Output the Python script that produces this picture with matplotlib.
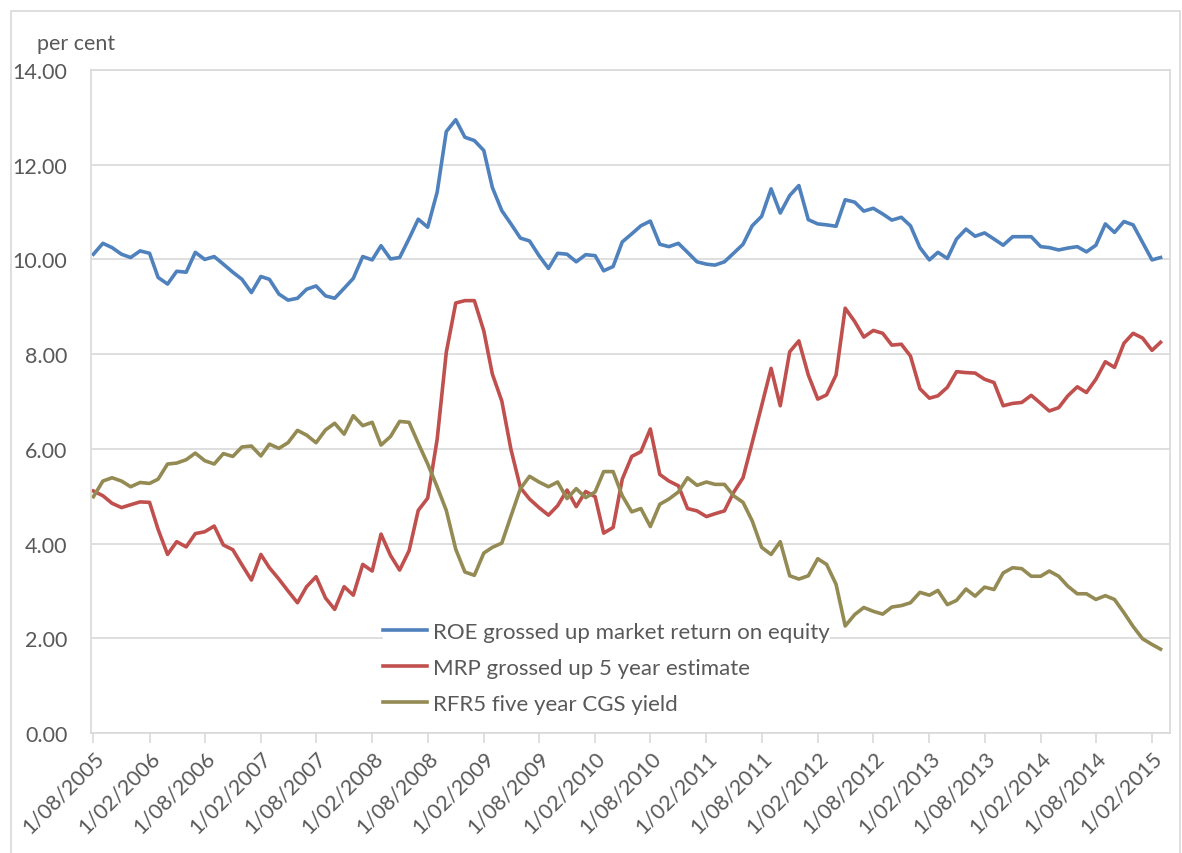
import numpy as np
import pandas as pd
import matplotlib
matplotlib.use("Agg")
import matplotlib.pyplot as plt
from matplotlib.patches import Rectangle

# monthly observations, Aug 2005 - Mar 2015
months = pd.date_range("2005-08-01", periods=116, freq="MS")

roe = [10.11, 10.34, 10.25, 10.11, 10.04, 10.18, 10.13, 9.62, 9.48, 9.75,
       9.73, 10.15, 10.00, 10.06, 9.90, 9.73, 9.58, 9.30, 9.64, 9.58,
       9.27, 9.14, 9.18, 9.37, 9.44, 9.23, 9.18, 9.39, 9.60, 10.06,
       9.99, 10.29, 10.01, 10.04, 10.44, 10.85, 10.68, 11.42, 12.70, 12.95,
       12.58, 12.51, 12.30, 11.52, 11.03, 10.75, 10.45, 10.39, 10.08, 9.81,
       10.13, 10.11, 9.95, 10.10, 10.08, 9.76, 9.85, 10.37, 10.54, 10.71,
       10.81, 10.32, 10.27, 10.34, 10.15, 9.95, 9.90, 9.88, 9.95, 10.13,
       10.32, 10.71, 10.91, 11.49, 10.98, 11.35, 11.56, 10.84, 10.75, 10.73,
       10.70, 11.26, 11.21, 11.02, 11.08, 10.96, 10.83, 10.89, 10.71, 10.25,
       9.99, 10.15, 10.02, 10.43, 10.64, 10.49, 10.56, 10.43, 10.30, 10.48,
       10.48, 10.48, 10.27, 10.25, 10.20, 10.24, 10.27, 10.16, 10.30, 10.75,
       10.57, 10.80, 10.73, 10.36, 9.99, 10.04]

mrp = [5.11, 5.01, 4.85, 4.76, 4.82, 4.88, 4.87, 4.30, 3.77, 4.04,
       3.93, 4.21, 4.25, 4.37, 3.97, 3.87, 3.55, 3.23, 3.77, 3.49,
       3.25, 3.00, 2.75, 3.09, 3.30, 2.85, 2.61, 3.09, 2.91, 3.56,
       3.42, 4.20, 3.75, 3.44, 3.85, 4.70, 4.96, 6.20, 8.04, 9.08,
       9.13, 9.13, 8.49, 7.58, 7.01, 5.99, 5.18, 4.94, 4.76, 4.60,
       4.80, 5.13, 4.78, 5.10, 4.99, 4.22, 4.34, 5.36, 5.84, 5.94,
       6.42, 5.46, 5.32, 5.22, 4.74, 4.69, 4.57, 4.63, 4.69, 5.08,
       5.39, 6.13, 6.91, 7.70, 6.91, 8.05, 8.28, 7.56, 7.05, 7.14,
       7.56, 8.97, 8.69, 8.36, 8.50, 8.44, 8.19, 8.21, 7.96, 7.27,
       7.07, 7.12, 7.30, 7.63, 7.61, 7.60, 7.47, 7.40, 6.91, 6.96,
       6.98, 7.13, 6.96, 6.80, 6.87, 7.12, 7.31, 7.19, 7.47, 7.84,
       7.72, 8.23, 8.44, 8.34, 8.08, 8.25]

rfr5 = [4.99, 5.32, 5.39, 5.32, 5.20, 5.29, 5.27, 5.36, 5.68, 5.70,
        5.77, 5.91, 5.75, 5.68, 5.90, 5.84, 6.04, 6.06, 5.85, 6.10,
        6.01, 6.13, 6.39, 6.29, 6.13, 6.40, 6.54, 6.31, 6.70, 6.49,
        6.56, 6.08, 6.26, 6.58, 6.56, 6.12, 5.68, 5.20, 4.70, 3.88,
        3.40, 3.33, 3.80, 3.92, 4.01, 4.58, 5.16, 5.42, 5.30, 5.20,
        5.30, 4.95, 5.16, 4.97, 5.09, 5.52, 5.52, 5.01, 4.67, 4.74,
        4.36, 4.83, 4.94, 5.09, 5.39, 5.23, 5.30, 5.25, 5.25, 5.01,
        4.87, 4.48, 3.92, 3.77, 4.04, 3.32, 3.25, 3.32, 3.68, 3.56,
        3.14, 2.26, 2.50, 2.65, 2.57, 2.51, 2.66, 2.69, 2.75, 2.97,
        2.91, 3.01, 2.71, 2.80, 3.04, 2.89, 3.08, 3.03, 3.38, 3.49,
        3.47, 3.31, 3.31, 3.42, 3.31, 3.10, 2.94, 2.94, 2.82, 2.90,
        2.82, 2.54, 2.25, 1.99, 1.87, 1.77]

series_names = ["ROE grossed up market return on equity",
                "MRP grossed up 5 year estimate",
                "RFR5 five year CGS yield"]
colors = ["#4F81BD", "#C0504D", "#948A54"]

grey_txt = "#595959"
grey_line = "#d9d9d9"

plt.rcParams["font.family"] = ["Lato", "DejaVu Sans"]

W, H = 1182, 854
fig = plt.figure(figsize=(W / 100, H / 100), dpi=100)
# outer chart border
fig.patches.append(Rectangle((11 / W, -0.01), (1180 - 11) / W, 1 - 12 / H + 0.01,
                             transform=fig.transFigure, fill=False,
                             edgecolor=grey_line, lw=1.2))

ax = fig.add_axes([91 / W, 1 - 734 / H, (1170 - 91) / W, (734 - 71) / H])

for vals, name, c in zip([roe, mrp, rfr5], series_names, colors):
    ax.plot(months, vals, color=c, lw=2.6, label=name, solid_joinstyle="round")

ax.set_ylim(0, 14)
yt = np.arange(0, 15, 2)
ax.set_yticks(yt)
ax.set_yticklabels([f"{v:.2f}" for v in yt])
ax.yaxis.grid(True, color=grey_line, lw=1.2)
ax.set_axisbelow(True)
ax.tick_params(axis="y", length=0, pad=17, labelsize=15.5, labelcolor=grey_txt)

ticks = months[::6]
ax.set_xticks(ticks)
ax.set_xticklabels([f"1/{d.month:02d}/{d.year}" for d in ticks],
                   rotation=45, ha="right", rotation_mode="anchor")
ax.tick_params(axis="x", length=7, width=1.2, color=grey_line, labelsize=15.5,
               labelcolor=grey_txt, pad=3)
ax.set_xlim(months[0] - pd.Timedelta(days=8), pd.Timestamp("2015-04-01"))

for s in ax.spines.values():
    s.set_color(grey_line)
    s.set_linewidth(1.2)

fig.text(37 / W, 1 - 44 / H, "per cent", fontsize=15.5, color=grey_txt, va="center")

ax.legend(loc="upper left", bbox_to_anchor=((383 - 91) / 1079, (734 - 623) / 663),
          frameon=True, facecolor="white", edgecolor="none", framealpha=1,
          fontsize=16, labelcolor=grey_txt, handlelength=2.0, handletextpad=0.25,
          labelspacing=0.72, borderpad=0, borderaxespad=0)

fig.savefig("out.png", dpi=100)
